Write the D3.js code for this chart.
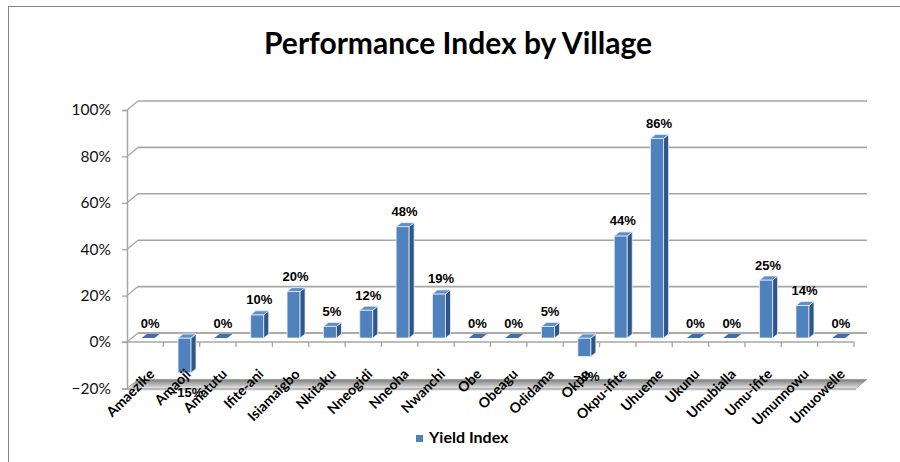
<!DOCTYPE html>
<html>
<head>
<meta charset="utf-8">
<script src="https://cdnjs.cloudflare.com/ajax/libs/d3/7.8.5/d3.min.js"></script>
<style>
  body { margin: 0; background: #fff; }
  svg { display: block; }
</style>
</head>
<body>
<div id="chart"></div>
<script>
const villages = ['Amaezike', 'Amaoji', 'Amatutu', 'Ifite-ani', 'Isiamaigbo', 'Nkitaku', 'Nneogidi',
  'Nneoha', 'Nwanchi', 'Obe', 'Obeagu', 'Odidama', 'Okpu', 'Okpu-ifite', 'Uhueme', 'Ukunu',
  'Umubialla', 'Umu-ifite', 'Umunnowu', 'Umuowelle'];
const yieldIndex = [0, -0.15, 0, 0.10, 0.20, 0.05, 0.12, 0.48, 0.19, 0, 0, 0.05, -0.08, 0.44, 0.86,
  0, 0, 0.25, 0.14, 0];
const yTicks = [-0.2, 0, 0.2, 0.4, 0.6, 0.8, 1.0];

const W = 900, H = 462;
// 3D depth of the walls
const DX = 11, DY = 9;

const svg = d3.select('#chart').append('svg')
  .attr('width', W)
  .attr('height', H);

svg.append('rect')
  .attr('x', 8.5).attr('y', 6.5)
  .attr('width', 900).attr('height', 470)
  .attr('fill', '#fff')
  .attr('stroke', '#868686');

svg.append('text')
  .attr('x', 458).attr('y', 54)
  .attr('text-anchor', 'middle')
  .style('font-family', 'Lato, sans-serif')
  .style('font-weight', 'bold')
  .style('font-size', '30px')
  .text('Performance Index by Village');

let x = d3.scaleBand()
  .domain(villages)
  .range([127, 854]);

let y = d3.scaleLinear()
  .domain([-0.2, 1.0])
  .range([388.4, 110]);

const grid = svg.append('g');

// back wall gridlines + left wall diagonals
yTicks.filter(t => t > -0.2).forEach(t => {
  grid.append('line')
    .attr('x1', 127 + DX).attr('x2', 867)
    .attr('y1', y(t) - DY).attr('y2', y(t) - DY)
    .attr('stroke', '#a6a6a6').attr('stroke-width', 1.6);
  grid.append('line')
    .attr('x1', 127).attr('x2', 127 + DX)
    .attr('y1', y(t)).attr('y2', y(t) - DY)
    .attr('stroke', '#a6a6a6').attr('stroke-width', 1.3);
});

// floor at -20%
const defs = svg.append('defs');
const grad = defs.append('linearGradient')
  .attr('id', 'floorGrad')
  .attr('x1', 0).attr('x2', 0).attr('y1', 0).attr('y2', 1);
grad.append('stop').attr('offset', '0%').attr('stop-color', '#7a7a7a');
grad.append('stop').attr('offset', '70%').attr('stop-color', '#c4c4c4');
grad.append('stop').attr('offset', '100%').attr('stop-color', '#efefef');

const yf = y(-0.2);
svg.append('polygon')
  .attr('points', [[127, yf], [127 + DX, yf - DY], [867, yf - DY], [867 - DX, yf]].join(' '))
  .attr('fill', 'url(#floorGrad)')
  .attr('stroke', '#9a9a9a').attr('stroke-width', 0.8);
svg.append('line')
  .attr('x1', 127).attr('x2', 867 - DX)
  .attr('y1', yf + 1).attr('y2', yf + 1)
  .attr('stroke', '#bdbdbd').attr('stroke-width', 1.5);

// y axis
let yAxis = d3.axisLeft(y)
  .tickValues(yTicks)
  .tickSize(5)
  .tickPadding(11)
  .tickFormat(d3.format('.0%'));

const yAxisG = svg.append('g')
  .attr('transform', 'translate(127,0)')
  .call(yAxis);
yAxisG.select('.domain').attr('stroke', '#a6a6a6').attr('stroke-width', 1.5);
yAxisG.selectAll('.tick line').attr('stroke', '#a6a6a6').attr('stroke-width', 1.3);
yAxisG.selectAll('.tick text')
  .style('font-family', 'Lato, sans-serif')
  .style('font-size', '15.5px')
  .attr('fill', '#111');

// zero plane: back edge, front axis line and category ticks
const y0 = y(0);
svg.append('line')
  .attr('x1', 127 + DX).attr('x2', 867)
  .attr('y1', y0 - DY).attr('y2', y0 - DY)
  .attr('stroke', '#a6a6a6').attr('stroke-width', 1.6);
svg.append('line')
  .attr('x1', 122).attr('x2', 854)
  .attr('y1', y0).attr('y2', y0)
  .attr('stroke', '#a6a6a6').attr('stroke-width', 1.6);
villages.forEach(v => {
  const bx = x(v) + x.bandwidth();
  svg.append('line')
    .attr('x1', bx).attr('x2', bx)
    .attr('y1', y0).attr('y2', y0 + 5)
    .attr('stroke', '#a6a6a6').attr('stroke-width', 1.3);
});

// bars
const BW = 13, BDX = 5, BDY = 4;
const bars = svg.append('g');
villages.forEach((v, i) => {
  const val = yieldIndex[i];
  const x0 = x(v) + x.bandwidth() / 2 + 3 - BW / 2;
  const yTop = y(Math.max(val, 0)) - 4;
  const yBot = y(Math.min(val, 0)) - 4;
  const g = bars.append('g');
  if (val !== 0) {
    g.append('rect')
      .attr('x', x0).attr('y', yTop)
      .attr('width', BW).attr('height', yBot - yTop)
      .attr('fill', '#4f81bd')
      .attr('stroke', '#e6eef8').attr('stroke-width', 0.8);
    g.append('polygon')
      .attr('points', [[x0 + BW, yTop], [x0 + BW + BDX, yTop - BDY], [x0 + BW + BDX, yBot - BDY], [x0 + BW, yBot]].join(' '))
      .attr('fill', '#2f5686')
      .attr('stroke', '#e6eef8').attr('stroke-width', 0.8);
  }
  g.append('polygon')
    .attr('points', [[x0, yTop], [x0 + BDX, yTop - BDY], [x0 + BW + BDX, yTop - BDY], [x0 + BW, yTop]].join(' '))
    .attr('fill', val === 0 ? '#3f6fae' : '#5f8fcb')
    .attr('stroke', val === 0 ? 'none' : '#e6eef8').attr('stroke-width', 0.8);

  const lx = x0 + BW / 2 + 2;
  const ly = val < 0 ? yBot + 24 : yTop - 10.5;
  svg.append('text')
    .attr('x', lx).attr('y', ly)
    .attr('text-anchor', 'middle')
    .style('font-family', '"Liberation Sans", Arial, sans-serif')
    .style('font-weight', 'bold')
    .style('font-size', '13px')
    .text(d3.format('.0%')(val));
});

// category labels
villages.forEach(v => {
  const cx = x(v) + x.bandwidth() / 2 + 10;
  svg.append('text')
    .attr('transform', 'translate(' + cx + ',375) rotate(-45)')
    .attr('text-anchor', 'end')
    .style('font-family', 'Lato, sans-serif')
    .style('font-weight', 'bold')
    .style('font-size', '14px')
    .text(v);
});

// legend
svg.append('rect')
  .attr('x', 416).attr('y', 435)
  .attr('width', 7).attr('height', 7)
  .attr('fill', '#4f81bd');
svg.append('text')
  .attr('x', 429).attr('y', 443)
  .style('font-family', 'Lato, sans-serif')
  .style('font-weight', 'bold')
  .style('font-size', '16px')
  .text('Yield Index');
</script>
</body>
</html>
